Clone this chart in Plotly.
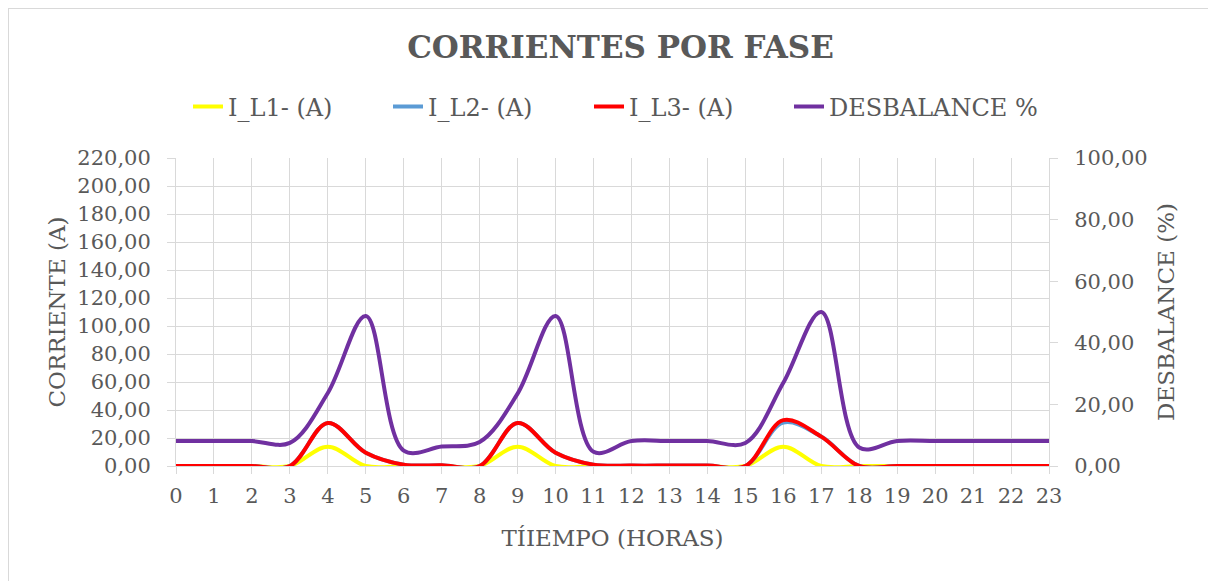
import plotly.graph_objects as go

hours = list(range(24))
i_l1 = [0, 0, 0, 0, 13.8, 0, 0, 0, 0, 13.8, 0, 0, 0, 0, 0, 0, 13.8, 0, 0, 0, 0, 0, 0, 0]
i_l2 = [0, 0, 0, 0, 30.7, 9.5, 1, 0.5, 0, 30.7, 9.5, 1, 0.3, 0.3, 0.3, 0, 31.0, 21.0, 0, 0, 0, 0, 0, 0]
i_l3 = [0, 0, 0, 0, 30.7, 9.5, 1, 0.5, 0, 30.7, 9.5, 1, 0.3, 0.3, 0.3, 0, 32.8, 21.0, 0, 0, 0, 0, 0, 0]
desbalance = [8.1, 8.1, 8.1, 7.5, 23.7, 48.7, 5.0, 6.3, 7.8, 23.5, 48.7, 4.6, 8.1, 8.1, 8.1, 7.5,
              27.0, 50.0, 6.0, 8.1, 8.1, 8.1, 8.1, 8.1]

series_names = ["I_L1- (A)", "I_L2- (A)", "I_L3- (A)", "DESBALANCE %"]
colors = ["#FFFF00", "#5B9BD5", "#FF0000", "#7030A0"]

FONT = "DejaVu Serif"
TXT = "#595959"
GRID = "#d9d9d9"

PW = 873
legend_px = [180, 380, 581, 781]
legend_ids = ["legend", "legend2", "legend3", "legend4"]

fig = go.Figure()
for k, (name, vals, col) in enumerate(zip(series_names[:3], [i_l1, i_l2, i_l3], colors[:3])):
    fig.add_trace(go.Scatter(x=hours, y=vals, name=name, mode="lines", legend=legend_ids[k],
                             showlegend=True,
                             line=dict(color=col, width=4, shape="spline", smoothing=1.0)))
fig.add_trace(go.Scatter(x=hours, y=desbalance, name=series_names[3], mode="lines", yaxis="y2",
                         legend=legend_ids[3], showlegend=True,
                         line=dict(color=colors[3], width=4, shape="spline", smoothing=1.0)))

legends = {}
for k, lid in enumerate(legend_ids):
    legends[lid] = dict(orientation="h", x=(legend_px[k] - 168) / PW, xanchor="left",
                        y=1.166, yanchor="middle",
                        font=dict(family=FONT, size=24, color=TXT), bgcolor="rgba(0,0,0,0)")

fig.update_layout(
    width=1216, height=581,
    showlegend=True,
    margin=dict(l=168, r=175, t=150, b=123),
    paper_bgcolor="white", plot_bgcolor="white",
    separators=",.",
    font=dict(family=FONT, color=TXT, size=21),
    title=dict(text="<b>CORRIENTES POR FASE</b>", x=0.5037, xanchor="center", y=0.933, yanchor="middle",
               font=dict(family=FONT, size=31, color=TXT)),
    xaxis=dict(range=[0, 23], dtick=1, tick0=0, showgrid=True, gridcolor=GRID, gridwidth=1,
               showline=True, linecolor=GRID, linewidth=1, zeroline=False,
               ticks="outside", ticklen=7, tickcolor=GRID, ticklabelstandoff=4,
               title=dict(text="TÍIEMPO (HORAS)", standoff=22, font=dict(size=23)),
               tickfont=dict(size=21)),
    yaxis=dict(range=[0, 220], dtick=20, tickformat=".2f", showgrid=True, gridcolor=GRID, gridwidth=1,
               showline=True, linecolor=GRID, zeroline=False,
               ticks="outside", ticklen=8, tickcolor=GRID, ticklabelstandoff=12,
               title=dict(text="CORRIENTE (A)", standoff=5, font=dict(size=23)),
               tickfont=dict(size=21)),
    yaxis2=dict(range=[0, 100], dtick=20, tickformat=".2f", overlaying="y", side="right",
                showgrid=False, showline=True, linecolor=GRID, zeroline=False,
                ticks="outside", ticklen=8, tickcolor=GRID, ticklabelstandoff=12,
                title=dict(text="DESBALANCE (%)", standoff=11, font=dict(size=23)),
                tickfont=dict(size=21)),
    shapes=[dict(type="rect", xref="paper", yref="paper",
                 x0=-168 / PW, x1=1.4, y0=-0.6, y1=1 + 150 / 308,
                 line=dict(color=GRID, width=2), fillcolor="rgba(0,0,0,0)", layer="below")],
    **legends,
)

fig.write_html("out.html")
